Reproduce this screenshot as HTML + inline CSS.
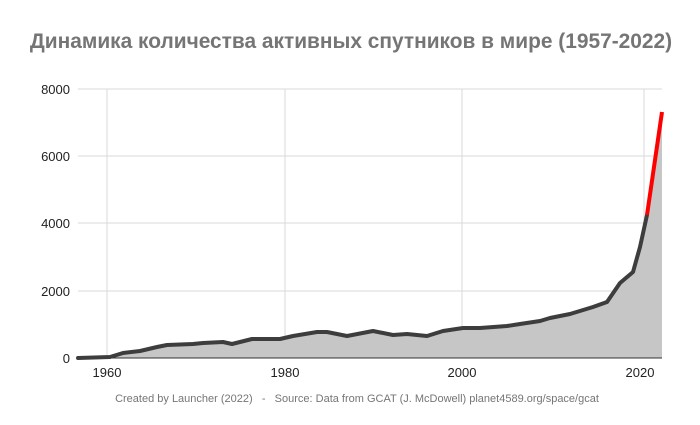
<!DOCTYPE html>
<html><head><meta charset="utf-8"><style>
body{margin:0;background:#fff;width:700px;height:420px;overflow:hidden}
text{font-family:"Liberation Sans",sans-serif}
</style></head><body>
<svg width="700" height="420" viewBox="0 0 700 420">
<text x="351" y="48" text-anchor="middle" font-size="20.9" font-weight="bold" fill="#757575">Динамика количества активных спутников в мире (1957-2022)</text>
<g stroke="#d9d9d9" stroke-width="1">
<line x1="78" y1="89" x2="662" y2="89"/>
<line x1="78" y1="156" x2="662" y2="156"/>
<line x1="78" y1="223" x2="662" y2="223"/>
<line x1="78" y1="291" x2="662" y2="291"/>
<line x1="107" y1="89" x2="107" y2="358"/>
<line x1="285" y1="89" x2="285" y2="358"/>
<line x1="462" y1="89" x2="462" y2="358"/>
<line x1="644" y1="89" x2="644" y2="358"/>
</g>
<path d="M78,358 L110,357 123,353 140,351 157,347 167,345 193,344 203,343 223,342 232,344 252,339 260,339 280,339 293,336 317,332 327,332 347,336 373,331 393,335 407,334 427,336 443,331 463,328 480,328 507,326 520,324 540,321 550,318 570,314 593,307 607,302 620,283 633,272 640,247 647,215 662,112 L662,358 Z" fill="#c6c6c6"/>
<line x1="78" y1="358" x2="662" y2="358" stroke="#333" stroke-width="1"/>
<polyline points="78,358 110,357 123,353 140,351 157,347 167,345 193,344 203,343 223,342 232,344 252,339 260,339 280,339 293,336 317,332 327,332 347,336 373,331 393,335 407,334 427,336 443,331 463,328 480,328 507,326 520,324 540,321 550,318 570,314 593,307 607,302 620,283 633,272 640,247 647,215" fill="none" stroke="#3d3d3d" stroke-width="4" stroke-linejoin="round" stroke-linecap="round"/>
<polyline points="647,215 662,112" fill="none" stroke="#f00" stroke-width="4"/>
<g font-size="13" fill="#222" text-anchor="end">
<text x="70" y="94">8000</text>
<text x="70" y="161">6000</text>
<text x="70" y="228">4000</text>
<text x="70" y="296">2000</text>
<text x="70" y="363">0</text>
</g>
<g font-size="13" fill="#222" text-anchor="middle">
<text x="107" y="377">1960</text>
<text x="285" y="377">1980</text>
<text x="462" y="377">2000</text>
<text x="640" y="377">2020</text>
</g>
<text x="357" y="402" text-anchor="middle" font-size="11" fill="#757575" xml:space="preserve">Created by Launcher (2022)   -   Source: Data from GCAT (J. McDowell) planet4589.org/space/gcat</text>
</svg>
</body></html>
